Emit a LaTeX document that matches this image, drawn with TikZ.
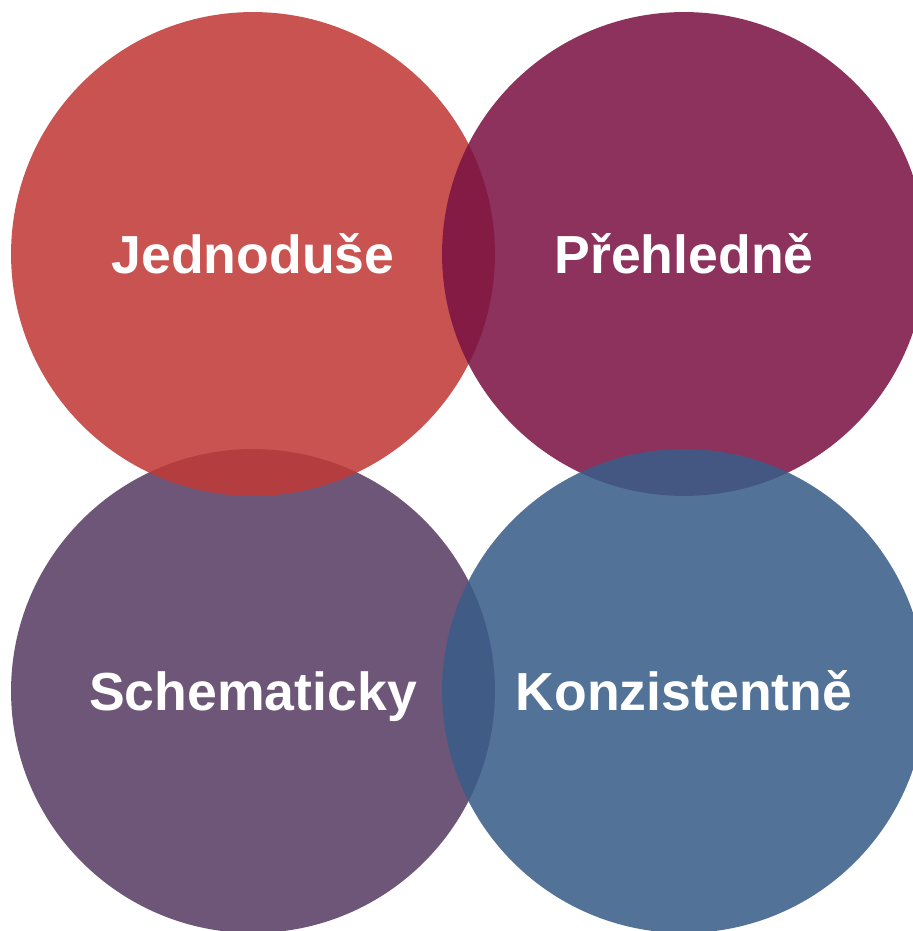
\documentclass[tikz,border=0pt]{standalone}
\usepackage{fontspec}
\setmainfont{Liberation Sans}
\usetikzlibrary{positioning}
\definecolor{circred}{HTML}{C03A37}
\definecolor{circwine}{HTML}{7B1344}
\definecolor{circplum}{HTML}{573D63}
\definecolor{circblue}{HTML}{3A5D89}

\begin{document}
\begin{tikzpicture}[x=0.02cm, y=-0.02cm]
    \tikzstyle{bubble} = [circle, minimum size=9.68cm, inner sep=0pt, fill opacity=0.87, text opacity=1, text=white, text height=21.8pt, text depth=0pt, font=\fontsize{30.5}{36}\selectfont\bfseries]

    \useasboundingbox (0,0) rectangle (913,931);
    \clip (0,0) rectangle (913,931);

    % lower row first, top row overlaps it
    \node (schema) [bubble, fill=circplum] at (253,691) {Schematicky};
    \node (simple) [bubble, fill=circred] at (253,254) {Jednoduše};
    \node (clear) [bubble, fill=circwine] at (684,254) {Přehledně};
    \node (consist) [bubble, fill=circblue] at (684,691) {Konzistentně};
\end{tikzpicture}
\end{document}
